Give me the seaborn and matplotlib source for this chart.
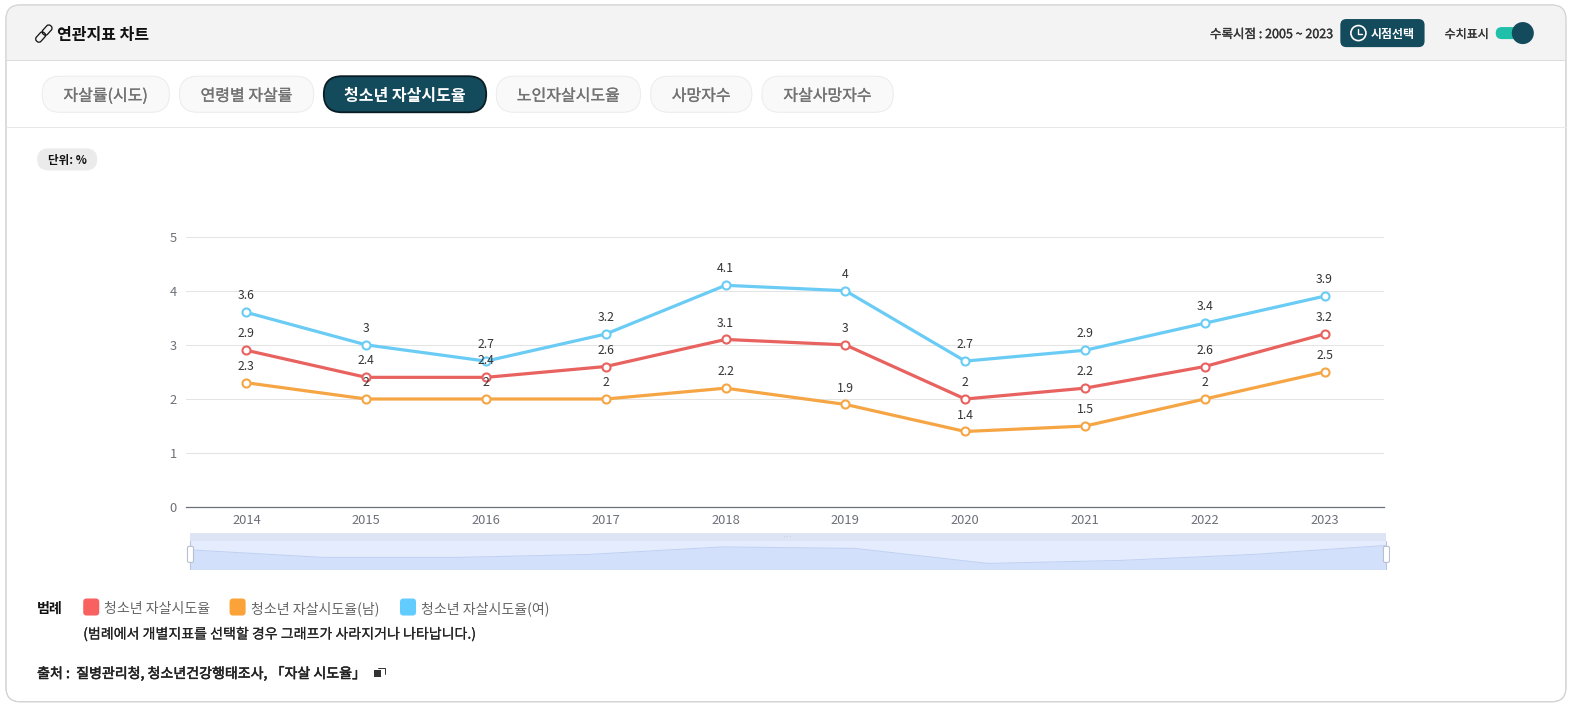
import matplotlib
matplotlib.use("Agg")
import matplotlib.pyplot as plt
import matplotlib.patheffects as pe
from matplotlib.patches import FancyBboxPatch, Rectangle, Circle
import pandas as pd
import seaborn as sns

years = ["2014", "2015", "2016", "2017", "2018", "2019", "2020", "2021", "2022", "2023"]
total = [2.9, 2.4, 2.4, 2.6, 3.1, 3, 2, 2.2, 2.6, 3.2]
male = [2.3, 2, 2, 2, 2.2, 1.9, 1.4, 1.5, 2, 2.5]
female = [3.6, 3, 2.7, 3.2, 4.1, 4, 2.7, 2.9, 3.4, 3.9]
series_names = ["청소년 자살시도율", "청소년 자살시도율(남)", "청소년 자살시도율(여)"]
line_colors = ["#e8625f", "#f6a544", "#6accf5"]
legend_colors = ["#f8615f", "#fba338", "#62ccff"]
tabs = ["자살률(시도)", "연령별 자살률", "청소년 자살시도율", "노인자살시도율", "사망자수", "자살사망자수"]

sns.set_theme(style="white")
plt.rcParams["font.family"] = ["Noto Sans CJK KR", "DejaVu Sans"]

W, H = 1572, 708
S = 0.9975
VW, VH = W * S, H * S
fig = plt.figure(figsize=(W / 100, H / 100), dpi=100, facecolor="white")


def px_axes(x0, y0, x1, y1, **kw):
    return fig.add_axes([x0 / VW, 1 - y1 / VH, (x1 - x0) / VW, (y1 - y0) / VH], **kw)


bg = fig.add_axes([0, 0, 1, 1], zorder=0)
bg.set_xlim(0, VW)
bg.set_ylim(VH, 0)
bg.axis("off")


def rbox(x0, y0, x1, y1, r, fc, ec="none", lw=0.72, z=2):
    p = FancyBboxPatch((x0 + r, y0 + r), x1 - x0 - 2 * r, y1 - y0 - 2 * r,
                       boxstyle=f"round,pad={r},rounding_size={r}", fc=fc, ec=ec, lw=lw, zorder=z)
    bg.add_patch(p)
    return p


def txt(x, y, s, size, color="#111111", weight="normal", ha="left", medium=0):
    t = bg.text(x, y, s, fontsize=size * 0.72, color=color, fontweight=weight, ha=ha, va="center_baseline", zorder=6)
    if medium:
        t.set_path_effects([pe.withStroke(linewidth=medium, foreground=color)])
    return t


card = rbox(6, 5, 1562, 700, 14, "white", "#d4d4d4", 0.8, z=1)
head = Rectangle((6, 5), 1556, 55, fc="#f3f3f3", ec="none", zorder=1.5)
bg.add_patch(head)
head.set_clip_path(card)
rbox(6, 5, 1562, 700, 14, "none", "#d4d4d4", 0.8, z=2)
bg.plot([6, 1562], [60, 60], color="#dcdcdc", lw=0.72, zorder=2)
bg.plot([6, 1562], [127, 127], color="#e8e8e8", lw=0.72, zorder=2)

# link icon
for cx, cy in [(40.5, 37), (47, 30)]:
    p = FancyBboxPatch((cx - 1.5, cy - 4), 3, 8, boxstyle="round,pad=1.6,rounding_size=2.8",
                       fc="none", ec="#111111", lw=0.9, zorder=5)
    p.set_transform(matplotlib.transforms.Affine2D().rotate_deg_around(cx, cy, 42) + bg.transData)
    bg.add_patch(p)
txt(57, 33, "연관지표 차트", 16, "#111111", "bold")

txt(1207, 33, "수록시점 : 2005 ~ 2023", 12.5, "#333333", medium=0.25)
rbox(1337, 19, 1421, 47, 6, "#134a5c")
bg.add_patch(Circle((1355, 33), 7.5, fc="none", ec="white", lw=1.2, zorder=5))
bg.plot([1355, 1355, 1359], [28.5, 33.5, 33.5], color="white", lw=1.0, zorder=5)
txt(1367, 33, "시점선택", 12, "white", "bold")
txt(1441, 33, "수치표시", 12, "#333333", medium=0.2)
rbox(1492, 27, 1522, 39, 6, "#20bfa9")
bg.add_patch(Circle((1519, 33), 11, fc="#134a5c", ec="none", zorder=4))

# tabs
tab_boxes = [(42, 169), (179, 313), (323, 485), (495, 639), (649, 750), (760, 891)]
for i, (name, (x0, x1)) in enumerate(zip(tabs, tab_boxes)):
    active = i == 2
    rbox(x0, 76, x1, 112, 18, "#134a5c" if active else "#f9f9f9",
         "#0a1d24" if active else "#ececec", 1.3 if active else 0.72)
    txt((x0 + x1) / 2, 94, name, 16, "white" if active else "#727272", "bold" if active else "normal", "center",
        medium=0 if active else 0.2)

# unit pill
rbox(37, 148, 97, 170, 11, "#ebebeb")
txt(67, 159, "단위: %", 11.5, "#111111", "bold", "center")

# main chart
df = pd.DataFrame({"year": years * 3,
                   "value": total + male + female,
                   "series": sum([[n] * len(years) for n in series_names], [])})
ax = px_axes(186, 236, 1381, 506, zorder=3)
ax.patch.set_alpha(0)
for name, color in zip(series_names, line_colors):
    sub = df[df["series"] == name]
    sns.lineplot(data=sub, x="year", y="value", ax=ax, color=color, lw=2.3, marker="o", ms=5.8,
                 markerfacecolor="white", markeredgecolor=color, markeredgewidth=1.5,
                 errorbar=None, sort=False, legend=False, zorder=3, clip_on=False)
    for x, v in zip(sub["year"], sub["value"]):
        ax.annotate(f"{v:g}", (x, v), xytext=(0, 11.8), textcoords="offset points", ha="center", va="center",
                    fontsize=8.8, color="#333333", zorder=5)
ax.set_xlim(-0.5, 9.5)
ax.set_ylim(0, 5)
ax.set_yticks(range(6))
ax.set_xlabel("")
ax.set_ylabel("")
ax.grid(axis="y", color="#e4e4e4", lw=0.75)
ax.grid(axis="x", visible=False)
ax.set_axisbelow(True)
for s in ["top", "left", "right"]:
    ax.spines[s].set_visible(False)
ax.spines["bottom"].set_color("#6e7079")
ax.spines["bottom"].set_linewidth(0.9)
ax.tick_params(axis="both", length=0, labelsize=9.3, labelcolor="#6e7079")
ax.tick_params(axis="x", pad=4.8)
ax.tick_params(axis="y", pad=7)
for lab in ax.get_yticklabels():
    lab.set_verticalalignment("center_baseline")

# overview slider
sl = px_axes(190, 540, 1383, 568, zorder=2)
sl.set_facecolor("#e4ecfd")
sl_df = df[df["series"] == series_names[0]]
sns.lineplot(data=sl_df, x="year", y="value", ax=sl, color="#bfd0f2", lw=0.7, errorbar=None, sort=False, legend=False)
sl.fill_between(sl_df["year"], sl_df["value"], 0, color="#d2e0fb", lw=0)
sl.set_xlim(0, 9)
sl.set_ylim(1.6, 3.47)
sl.set_xticks([])
sl.set_yticks([])
sl.set_xlabel("")
sl.set_ylabel("")
for s in sl.spines.values():
    s.set_visible(False)
bg.add_patch(Rectangle((190, 532), 1193, 8, fc="#dde4f3", ec="none", zorder=1.6))
txt(786, 535, "···", 6, "#b0b8c8", "normal", "center")
hd = fig.add_axes([0, 0, 1, 1], zorder=4)
hd.set_xlim(0, VW)
hd.set_ylim(VH, 0)
hd.axis("off")
for hx in (190, 1383):
    hd.plot([hx, hx], [540, 568], color="#b8c6e0", lw=0.8)
    hd.add_patch(FancyBboxPatch((hx - 2, 546), 4, 14, boxstyle="round,pad=1,rounding_size=1.5",
                                fc="white", ec="#b8c0d0", lw=0.8, zorder=5))

# legend
txt(37, 605.5, "범례", 14, "#111111", "bold")
for (sx, tx), name, color in zip([(83, 104), (229, 250), (399, 420)], series_names, legend_colors):
    rbox(sx, 597, sx + 16, 614, 3.5, color)
    txt(tx, 605.5, name, 14, "#666666")
txt(83, 631, "(범례에서 개별지표를 선택할 경우 그래프가 사라지거나 나타납니다.)", 14, "#222222", medium=0.12)
txt(37, 670.5, "출처 :  질병관리청, 청소년건강행태조사, 「자살 시도율」", 14, "#222222", medium=0.4)
bg.add_patch(Rectangle((373, 668), 7, 7, fc="#333333", ec="none", zorder=5))
bg.plot([377, 384, 384], [666, 666, 672], color="#333333", lw=0.7, zorder=5)

fig.savefig("out.png", dpi=100)
